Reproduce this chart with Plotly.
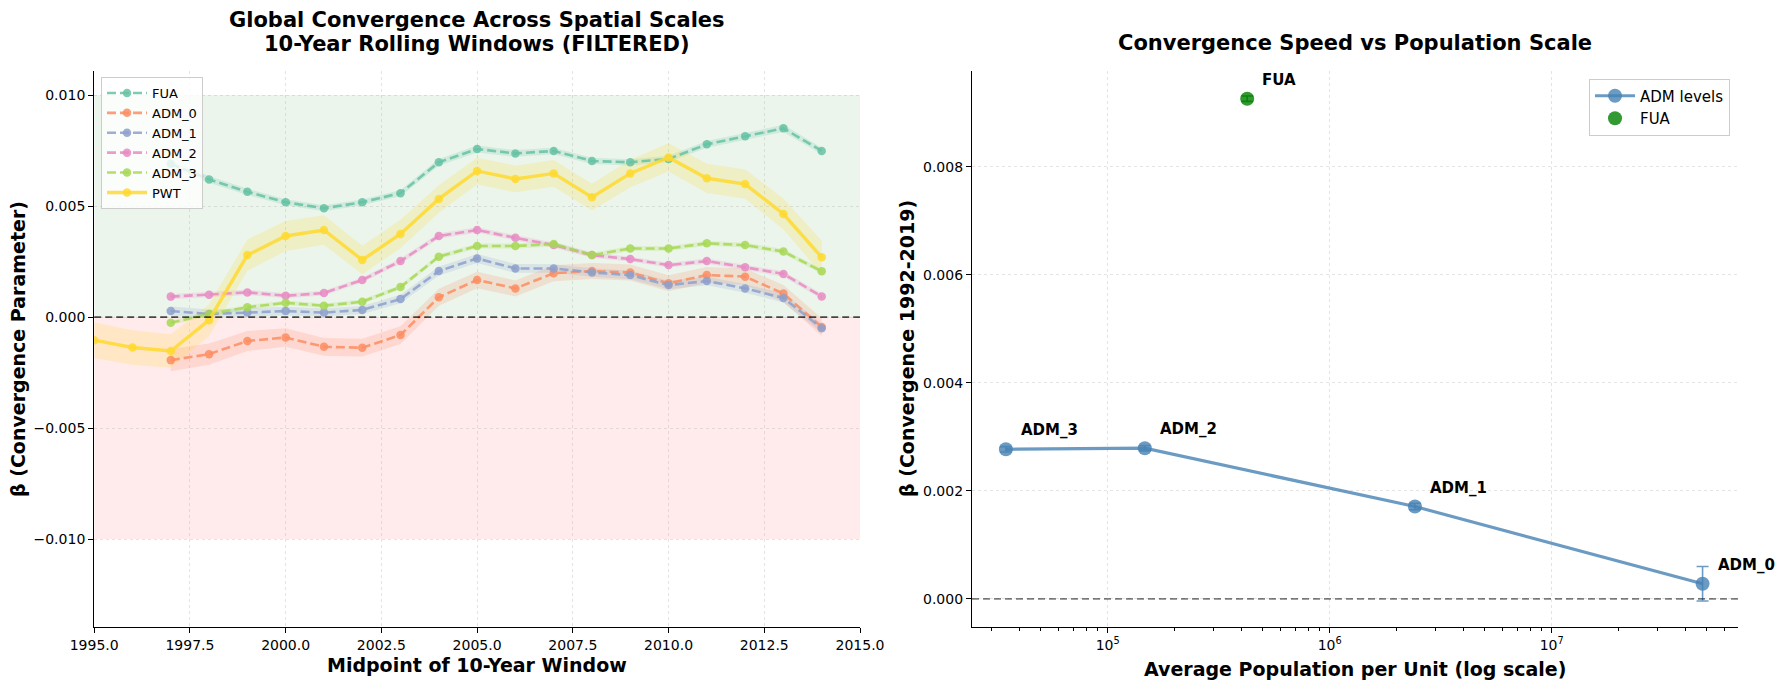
import numpy as np
import plotly.graph_objects as go

# ---------------- data ----------------
years_adm = list(range(1997, 2015))
years_pwt = list(range(1995, 2015))

fua_beta = [0.00690, 0.00620, 0.00564, 0.00517, 0.00490, 0.00517, 0.00558, 0.00697, 0.00757,
            0.00737, 0.00748, 0.00703, 0.00697, 0.00712, 0.00778, 0.00814, 0.00850, 0.00748]
adm0_beta = [-0.00194, -0.00167, -0.00108, -0.00092, -0.00134, -0.00138, -0.00081, 0.00089, 0.00167,
             0.00129, 0.00197, 0.00207, 0.00201, 0.00152, 0.00189, 0.00182, 0.00106, -0.00045]
adm1_beta = [0.00027, 0.00014, 0.00020, 0.00027, 0.00020, 0.00032, 0.00081, 0.00207, 0.00264,
             0.00219, 0.00219, 0.00201, 0.00189, 0.00144, 0.00162, 0.00129, 0.00086, -0.00050]
adm2_beta = [0.00092, 0.00100, 0.00111, 0.00096, 0.00108, 0.00167, 0.00252, 0.00365, 0.00392,
             0.00357, 0.00324, 0.00279, 0.00261, 0.00234, 0.00252, 0.00224, 0.00194, 0.00093]
adm3_beta = [-0.00026, 0.00014, 0.00044, 0.00064, 0.00051, 0.00069, 0.00135, 0.00272, 0.00320,
             0.00320, 0.00329, 0.00279, 0.00309, 0.00309, 0.00332, 0.00324, 0.00295, 0.00206]
pwt_beta = [-0.00104, -0.00137, -0.00153, -0.00014, 0.00279, 0.00365, 0.00392, 0.00257, 0.00374, 0.00532,
            0.00658, 0.00622, 0.00647, 0.00540, 0.00647, 0.00719, 0.00625, 0.00599, 0.00464, 0.00269]

# confidence half-widths (estimated from band thickness)
fua_ci = [0.00015, 0.00015, 0.00014, 0.00014, 0.00013, 0.00013, 0.00014, 0.00015, 0.00016,
          0.00015, 0.00015, 0.00014, 0.00014, 0.00014, 0.00015, 0.00015, 0.00016, 0.00015]
adm0_ci = [0.00050, 0.00048, 0.00045, 0.00042, 0.00040, 0.00040, 0.00040, 0.00038, 0.00037,
           0.00036, 0.00036, 0.00036, 0.00036, 0.00036, 0.00036, 0.00037, 0.00038, 0.00040]
adm1_ci = [0.00020, 0.00020, 0.00019, 0.00019, 0.00018, 0.00018, 0.00019, 0.00020, 0.00020,
           0.00020, 0.00019, 0.00019, 0.00019, 0.00019, 0.00019, 0.00019, 0.00020, 0.00021]
adm2_ci = [0.00012, 0.00012, 0.00012, 0.00011, 0.00011, 0.00011, 0.00012, 0.00012, 0.00012,
           0.00012, 0.00012, 0.00012, 0.00011, 0.00011, 0.00012, 0.00012, 0.00012, 0.00012]
adm3_ci = [0.00010, 0.00010, 0.00010, 0.00010, 0.00010, 0.00010, 0.00010, 0.00011, 0.00011,
           0.00011, 0.00011, 0.00011, 0.00011, 0.00011, 0.00011, 0.00011, 0.00011, 0.00011]
pwt_ci = [0.00080, 0.00078, 0.00075, 0.00072, 0.00070, 0.00068, 0.00066, 0.00064, 0.00064, 0.00062,
          0.00060, 0.00060, 0.00060, 0.00060, 0.00062, 0.00064, 0.00066, 0.00066, 0.00070, 0.00075]

series_names = ["FUA", "ADM_0", "ADM_1", "ADM_2", "ADM_3", "PWT"]
series_colors = ["#66c2a5", "#fc8d62", "#8da0cb", "#e78ac3", "#a6d854", "#ffd92f"]

# right panel
adm_levels = ["ADM_3", "ADM_2", "ADM_1", "ADM_0"]
adm_pop = [34800, 147000, 2420000, 47800000]
adm_beta_full = [0.00277, 0.00279, 0.00171, 0.00028]
adm_err = [0.00005, 0.00005, 0.00006, 0.00032]
fua_pop = [425000]
fua_beta_full = [0.00926]
fua_err = [0.00005]

log_tick_vals = [1e5, 1e6, 1e7]
log_tick_text = ["10<sup>5</sup>", "10<sup>6</sup>", "10<sup>7</sup>"]

# ---------------- figure ----------------
# page body has an 8px margin; size the figure so it fits the 1784x690 window
OFF = 8
W, H = 1784 - 2 * OFF, 690 - 2 * OFF
FONT = "DejaVu Sans"


def px_x(p):
    return (p - OFF) / W


def px_y(p):
    return 1 - (p - OFF) / H


def rgba(hexc, a):
    h = hexc.lstrip("#")
    r, g, b = int(h[0:2], 16), int(h[2:4], 16), int(h[4:6], 16)
    return f"rgba({r},{g},{b},{a})"


fig = go.Figure()

left_series = [
    (years_adm, fua_beta, fua_ci),
    (years_adm, adm0_beta, adm0_ci),
    (years_adm, adm1_beta, adm1_ci),
    (years_adm, adm2_beta, adm2_ci),
    (years_adm, adm3_beta, adm3_ci),
    (years_pwt, pwt_beta, pwt_ci),
]

for name, color, (xs, ys, ci) in zip(series_names, series_colors, left_series):
    up = [y + c for y, c in zip(ys, ci)]
    lo = [y - c for y, c in zip(ys, ci)]
    fig.add_trace(go.Scatter(x=xs, y=up, mode="lines", line=dict(width=0, color=color),
                             showlegend=False, hoverinfo="skip", xaxis="x", yaxis="y"))
    fig.add_trace(go.Scatter(x=xs, y=lo, mode="lines", line=dict(width=0, color=color),
                             fill="tonexty", fillcolor=rgba(color, 0.2),
                             showlegend=False, hoverinfo="skip", xaxis="x", yaxis="y"))

for name, color, (xs, ys, ci) in zip(series_names, series_colors, left_series):
    is_pwt = name == "PWT"
    fig.add_trace(go.Scatter(
        x=xs, y=ys, mode="lines+markers", name=name,
        line=dict(color=rgba(color, 0.85), width=3.4 if is_pwt else 2.6,
                  dash="solid" if is_pwt else "9px,4px"),
        marker=dict(color=rgba(color, 0.85), size=8.5),
        xaxis="x", yaxis="y", legend="legend"))

# right panel traces
fig.add_trace(go.Scatter(
    x=adm_pop, y=adm_beta_full, mode="lines+markers", name="ADM levels",
    line=dict(color="rgba(70,130,180,0.8)", width=3.2),
    marker=dict(color="rgba(70,130,180,0.8)", size=14),
    error_y=dict(type="data", array=adm_err, color="rgba(70,130,180,0.8)", thickness=1.6, width=6),
    xaxis="x2", yaxis="y2", legend="legend2"))
fig.add_trace(go.Scatter(
    x=fua_pop, y=fua_beta_full, mode="markers", name="FUA",
    marker=dict(color="rgba(0,128,0,0.8)", size=14),
    error_y=dict(type="data", array=fua_err, color="rgba(0,128,0,0.8)", thickness=1.6, width=6),
    xaxis="x2", yaxis="y2", legend="legend2"))

# ---------------- layout ----------------
x1_dom = [px_x(94.2), px_x(860)]
x2_dom = [px_x(972), px_x(1738)]
y_dom = [px_y(627), px_y(70.6)]

grid_col = "rgba(170,170,170,0.32)"
tick_font = dict(family=FONT, size=14, color="#000")

minor_log = [k * 10 ** e for e in range(4, 8) for k in range(2, 10)]

common = dict(showline=True, linecolor="#000", linewidth=1.2, ticks="outside", ticklen=5,
              tickcolor="#000", tickfont=tick_font, showgrid=True, gridcolor=grid_col,
              griddash="dot", gridwidth=1, zeroline=False, automargin=False)

fig.update_layout(
    width=W, height=H,
    margin=dict(l=0, r=0, t=0, b=0),
    paper_bgcolor="white", plot_bgcolor="white",
    font=dict(family=FONT, color="#000"),
    xaxis=dict(domain=x1_dom, range=[1995, 2015], tickmode="linear", tick0=1995, dtick=2.5,
               tickformat=".1f", anchor="y", minor=dict(showgrid=False, ticks=""), **common),
    yaxis=dict(domain=y_dom, range=[-0.01396, 0.0111], tickmode="linear", tick0=0, dtick=0.005,
               tickformat=".3f", anchor="x", minor=dict(showgrid=False, ticks=""), **common),
    xaxis2=dict(domain=x2_dom, type="log", range=[4.389, 7.839], tickmode="array",
                tickvals=log_tick_vals, ticktext=log_tick_text, anchor="y2",
                minor=dict(tickvals=minor_log, ticks="outside", ticklen=3, tickcolor="#000",
                           showgrid=False), **common),
    yaxis2=dict(domain=y_dom, range=[-0.00052, 0.00978], tickmode="linear", tick0=0, dtick=0.002,
                tickformat=".3f", anchor="x2", minor=dict(showgrid=False, ticks=""), **common),
    legend=dict(x=px_x(101), y=px_y(77), xanchor="left", yanchor="top", traceorder="normal",
                bgcolor="rgba(255,255,255,0.8)", bordercolor="#cccccc", borderwidth=1,
                font=dict(family=FONT, size=13), tracegroupgap=0, itemwidth=40),
    legend2=dict(x=px_x(1730), y=px_y(78.5), xanchor="right", yanchor="top", traceorder="normal",
                 bgcolor="rgba(255,255,255,0.8)", bordercolor="#cccccc", borderwidth=1,
                 font=dict(family=FONT, size=15), itemwidth=40),
    showlegend=True,
)

shapes = [
    dict(type="rect", xref="x", yref="y", x0=1995, x1=2015, y0=0, y1=0.010,
         fillcolor="rgba(0,128,0,0.08)", line=dict(width=0), layer="below"),
    dict(type="rect", xref="x", yref="y", x0=1995, x1=2015, y0=-0.010, y1=0,
         fillcolor="rgba(255,0,0,0.08)", line=dict(width=0), layer="below"),
    dict(type="line", xref="x domain", yref="y", x0=0, x1=1, y0=0, y1=0,
         line=dict(color="rgba(0,0,0,0.7)", width=1.7, dash="7px,4px")),
    dict(type="line", xref="x2 domain", yref="y2", x0=0, x1=1, y0=0, y1=0,
         line=dict(color="rgba(0,0,0,0.5)", width=1.7, dash="7px,4px")),
]
fig.update_layout(shapes=shapes)

ann = []
# titles
ann.append(dict(text="<b>Global Convergence Across Spatial Scales</b>", x=px_x(477), y=px_y(20),
                xref="paper", yref="paper", showarrow=False, xanchor="center", yanchor="middle",
                font=dict(family=FONT, size=21)))
ann.append(dict(text="<b>10-Year Rolling Windows (FILTERED)</b>", x=px_x(477), y=px_y(44),
                xref="paper", yref="paper", showarrow=False, xanchor="center", yanchor="middle",
                font=dict(family=FONT, size=21)))
ann.append(dict(text="<b>Convergence Speed vs Population Scale</b>", x=px_x(1355), y=px_y(43),
                xref="paper", yref="paper", showarrow=False, xanchor="center", yanchor="middle",
                font=dict(family=FONT, size=21)))
# axis titles
ann.append(dict(text="<b>Midpoint of 10-Year Window</b>", x=px_x(477), y=px_y(665),
                xref="paper", yref="paper", showarrow=False, xanchor="center", yanchor="middle",
                font=dict(family=FONT, size=19)))
ann.append(dict(text="<b>Average Population per Unit (log scale)</b>", x=px_x(1355), y=px_y(669),
                xref="paper", yref="paper", showarrow=False, xanchor="center", yanchor="middle",
                font=dict(family=FONT, size=19)))
ann.append(dict(text="<b>β (Convergence Parameter)</b>", x=px_x(18), y=px_y(349),
                xref="paper", yref="paper", showarrow=False, xanchor="center", yanchor="middle",
                textangle=-90, font=dict(family=FONT, size=19)))
ann.append(dict(text="<b>β (Convergence 1992-2019)</b>", x=px_x(907), y=px_y(349),
                xref="paper", yref="paper", showarrow=False, xanchor="center", yanchor="middle",
                textangle=-90, font=dict(family=FONT, size=19)))
# point labels
for lab, p, b in zip(adm_levels, adm_pop, adm_beta_full):
    ann.append(dict(text=f"<b>{lab}</b>", x=np.log10(p), y=b, xref="x2", yref="y2",
                    showarrow=False, xanchor="left", yanchor="bottom", xshift=13, yshift=8,
                    font=dict(family=FONT, size=15)))
for p, b in zip(fua_pop, fua_beta_full):
    ann.append(dict(text="<b>FUA</b>", x=np.log10(p), y=b, xref="x2", yref="y2",
                    showarrow=False, xanchor="left", yanchor="bottom", xshift=13, yshift=8,
                    font=dict(family=FONT, size=15)))
fig.update_layout(annotations=ann)

fig.write_html("out.html")
